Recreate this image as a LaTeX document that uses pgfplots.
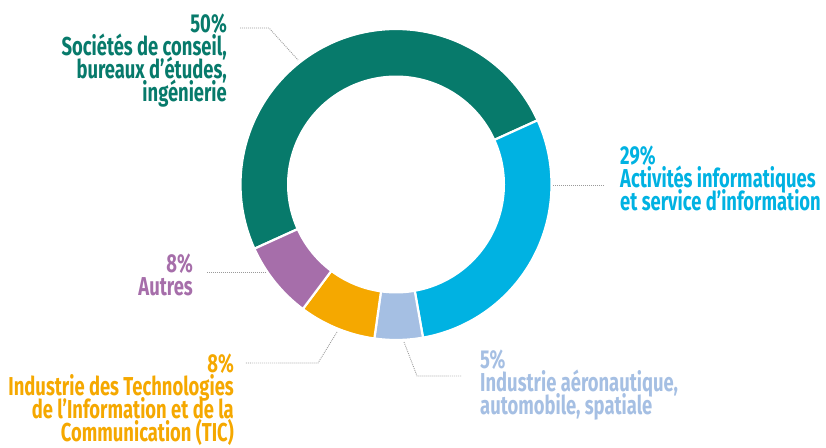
\documentclass[border=0pt]{standalone}
\usepackage{pgfplots}
\pgfplotsset{compat=1.18}
\usepackage{fontspec}
\setmainfont{Fira Sans}[FakeStretch=0.71]
\definecolor{cgreen}{HTML}{077A6B}
\definecolor{cblue}{HTML}{00B2E2}
\definecolor{clight}{HTML}{A5BFE3}
\definecolor{corange}{HTML}{F5A800}
\definecolor{cpurple}{HTML}{A66EAA}
\definecolor{cline}{HTML}{9A9A9A}
% shares in percent
\def\vGreen{50}\def\vBlue{29}\def\vLight{5}\def\vOrange{8}\def\vPurple{8}
\pgfmathsetmacro\aA{204.4}
\pgfmathsetmacro\aB{\aA-3.6*\vGreen}
\pgfmathsetmacro\aC{\aB-3.6*\vBlue}
\pgfmathsetmacro\aD{\aC-3.6*\vLight}
\pgfmathsetmacro\aE{\aD-3.6*\vOrange}
\pgfmathsetmacro\aF{\aE-3.6*\vPurple}
\def\cx{396}\def\cy{263.5}\def\R{155.5}\def\r{109}
\newcommand\blockR[1]{\vtop{\lineskiplimit=-100pt\baselineskip=23bp\lineskip=0pt\halign{\hfil##\cr#1\crcr}}}
\newcommand\blockL[1]{\vtop{\lineskiplimit=-100pt\baselineskip=23bp\lineskip=0pt\halign{##\hfil\cr#1\crcr}}}
\tikzset{lab/.style={inner sep=0pt,font=\fontsize{26}{23}\selectfont\bfseries}}
\begin{document}
\begin{tikzpicture}
\begin{axis}[scale only axis, width=826bp, height=448bp,
  xmin=0, xmax=826, ymin=0, ymax=448, hide axis, clip=false]
\path (axis cs:0,0) rectangle (axis cs:826,448);
\addplot[fill=cgreen, draw=white, line width=2.2pt, line join=round, domain=\aB:\aA, samples=120, variable=\t]
  ({\cx+\R*cos(t)},{\cy+\R*sin(t)}) -- (axis cs:\cx,\cy) -- cycle;
\addplot[fill=cblue, draw=white, line width=2.2pt, line join=round, domain=\aC:\aB, samples=80, variable=\t]
  ({\cx+\R*cos(t)},{\cy+\R*sin(t)}) -- (axis cs:\cx,\cy) -- cycle;
\addplot[fill=clight, draw=white, line width=2.2pt, line join=round, domain=\aD:\aC, samples=30, variable=\t]
  ({\cx+\R*cos(t)},{\cy+\R*sin(t)}) -- (axis cs:\cx,\cy) -- cycle;
\addplot[fill=corange, draw=white, line width=2.2pt, line join=round, domain=\aE:\aD, samples=30, variable=\t]
  ({\cx+\R*cos(t)},{\cy+\R*sin(t)}) -- (axis cs:\cx,\cy) -- cycle;
\addplot[fill=cpurple, draw=white, line width=2.2pt, line join=round, domain=\aF:\aE, samples=30, variable=\t]
  ({\cx+\R*cos(t)},{\cy+\R*sin(t)}) -- (axis cs:\cx,\cy) -- cycle;
\addplot[fill=white, draw=none, domain=0:360, samples=180, variable=\t]
  ({\cx+\r*cos(t)},{\cy+\r*sin(t)}) -- cycle;
% leader lines
\addplot[cline, line width=0.9pt, dash pattern=on 0.9pt off 1.1pt] coordinates {(240,420) (269,420) (298,388)};
\addplot[cline, line width=0.9pt, dash pattern=on 0.9pt off 1.1pt] coordinates {(553,263) (603,263)};
\addplot[cline, line width=0.9pt, dash pattern=on 0.9pt off 1.1pt] coordinates {(404,106) (417,72) (462,72)};
\addplot[cline, line width=0.9pt, dash pattern=on 0.9pt off 1.1pt] coordinates {(337,116) (318,85) (245,85)};
\addplot[cline, line width=0.9pt, dash pattern=on 0.9pt off 1.1pt] coordinates {(207,176) (266,176)};
% labels
\node[lab, anchor=base east, text=cgreen] at (axis cs:227,415)
  {\blockR{50\%\cr Sociétés de conseil,\cr bureaux d’études,\cr ingénierie}};
\node[lab, anchor=base west, text=cblue] at (axis cs:620,283)
  {\blockL{29\%\cr Activités informatiques\cr et service d’information}};
\node[lab, anchor=base west, text=clight] at (axis cs:480,79)
  {\blockL{5\%\cr Industrie aéronautique,\cr automobile, spatiale}};
\node[lab, anchor=base east, text=cpurple] at (axis cs:193,175)
  {\blockR{8\%\cr Autres}};
\node[lab, anchor=base east, text=corange] at (axis cs:234,75)
  {\blockR{8\%\cr Industrie des Technologies\cr de l’Information et de la\cr Communication (TIC)}};
\end{axis}
\end{tikzpicture}
\end{document}
